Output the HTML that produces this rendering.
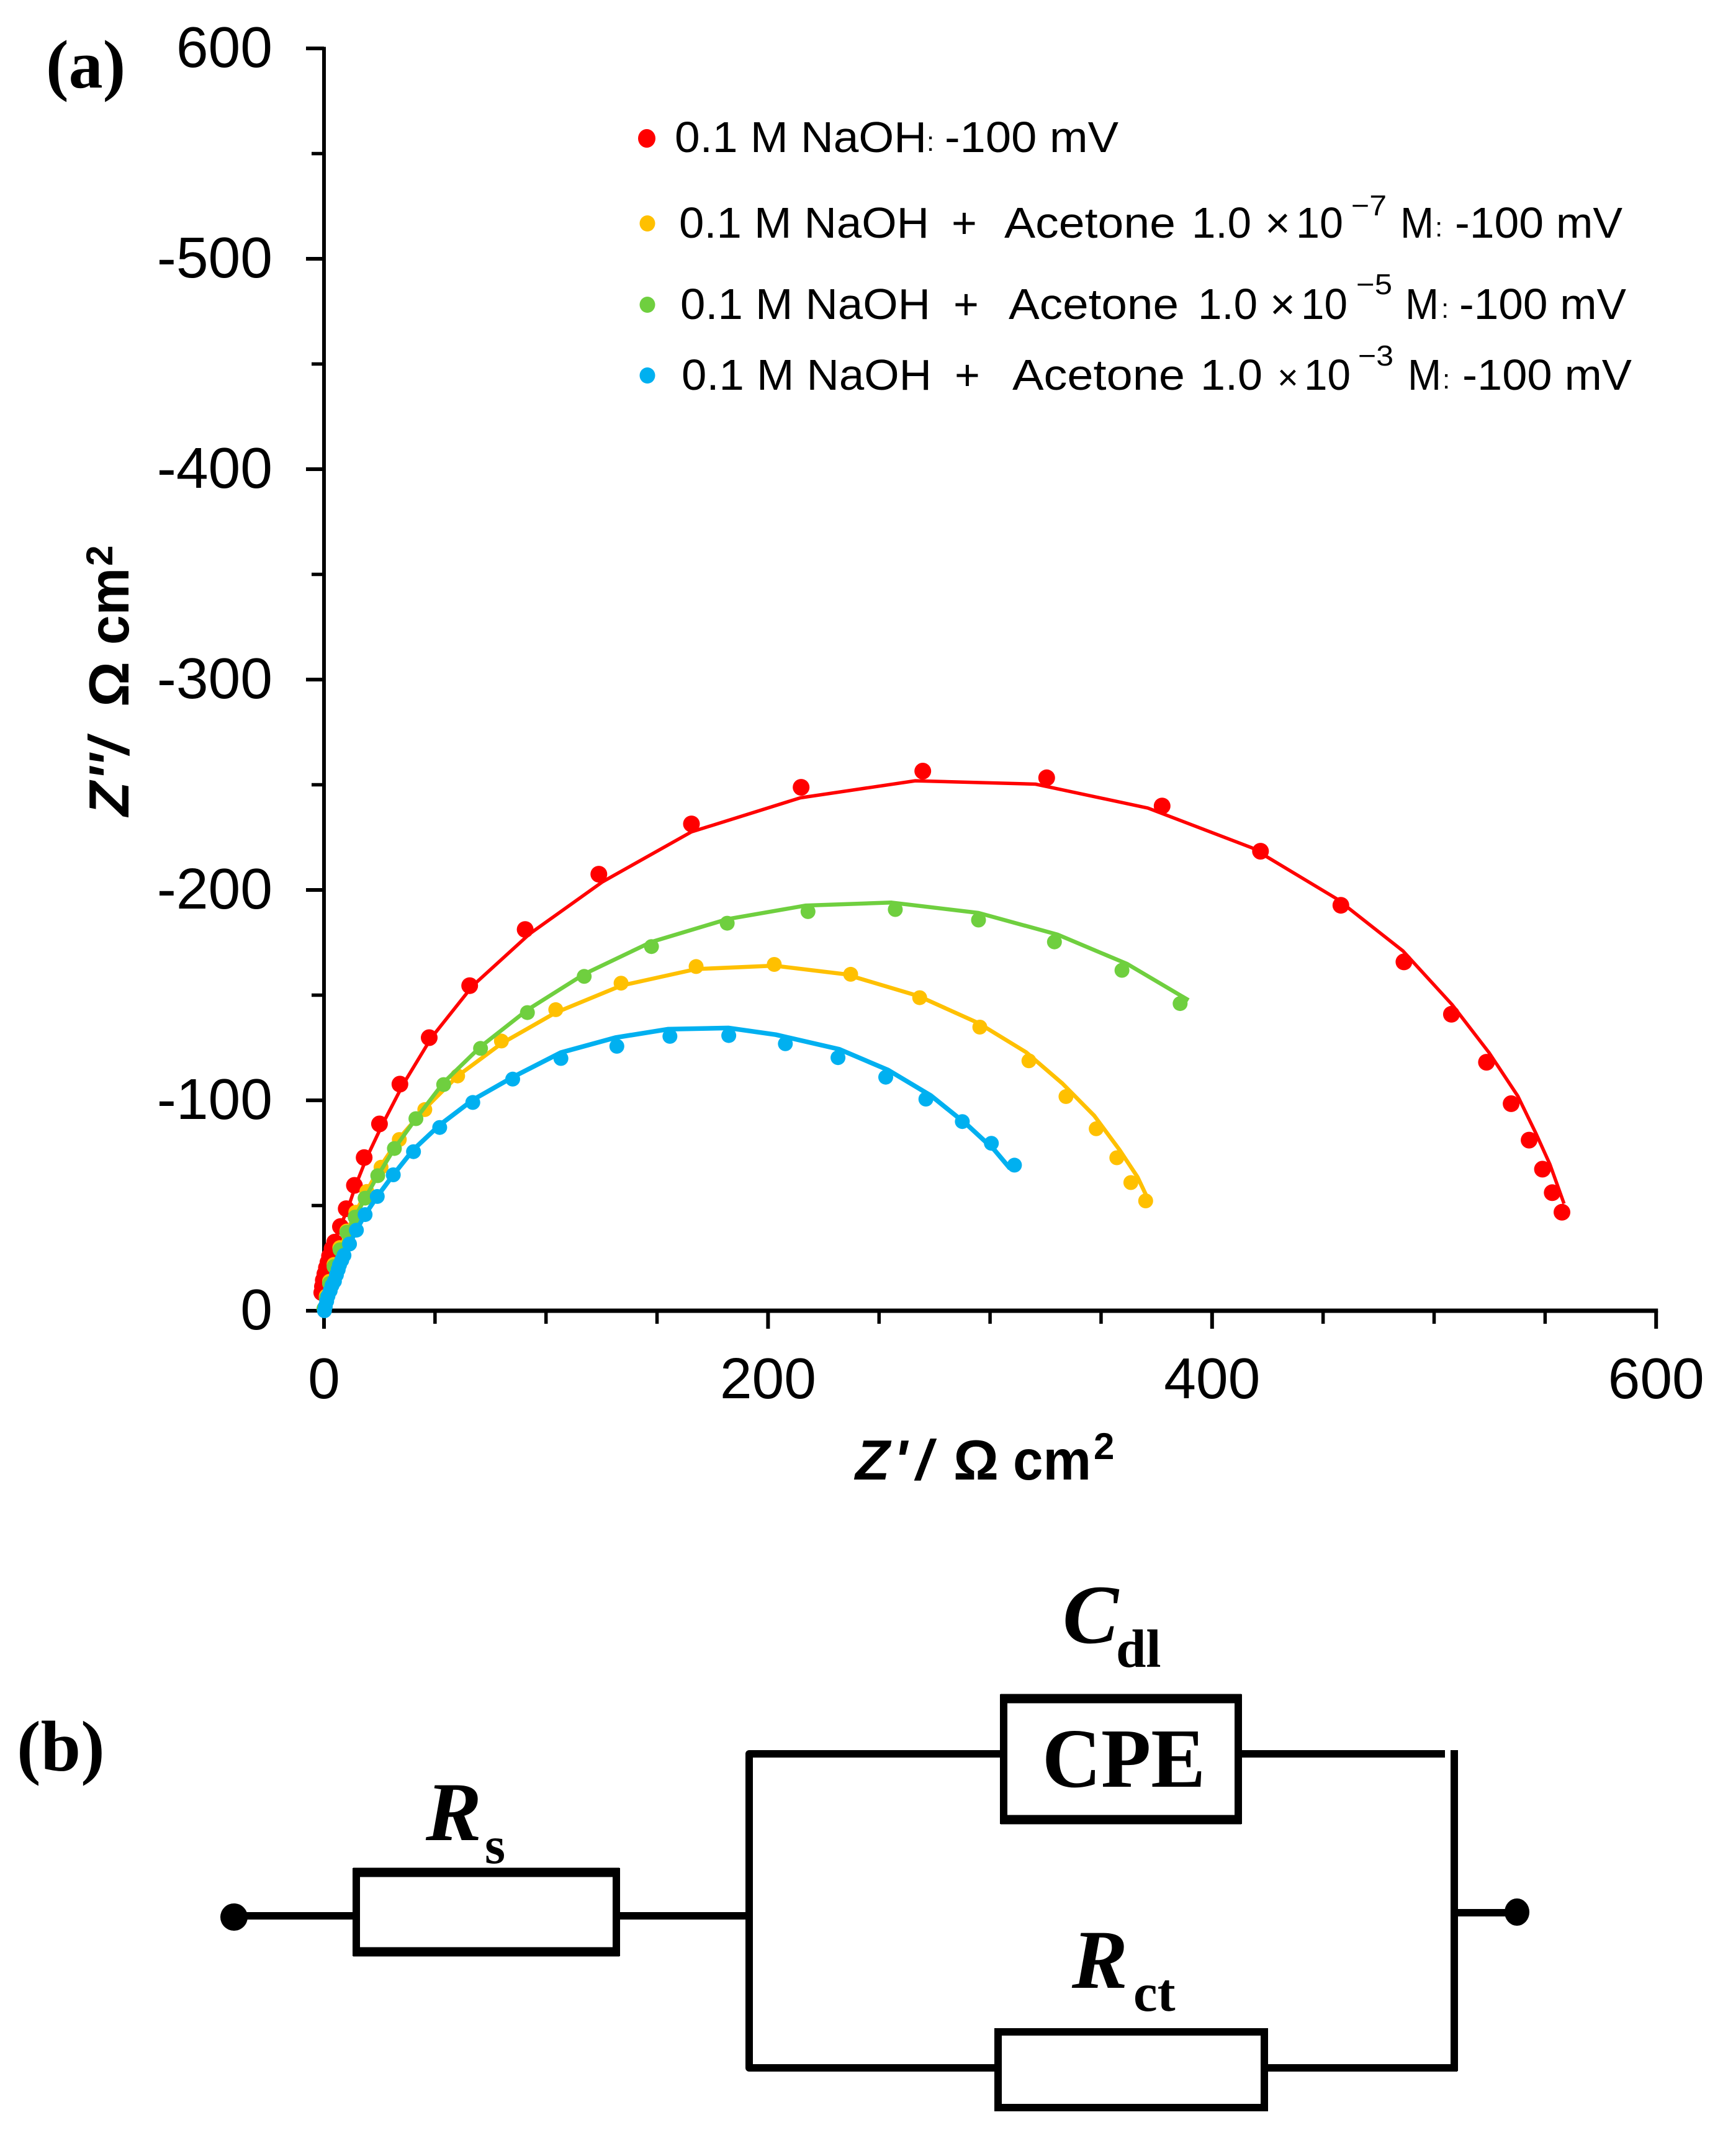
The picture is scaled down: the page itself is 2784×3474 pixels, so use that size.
<!DOCTYPE html>
<html lang="en">
<head>
<meta charset="utf-8">
<title>Nyquist plot and equivalent circuit</title>
<style>
html,body{margin:0;padding:0;background:#fff;}
svg{display:block;}
text{fill:#000;}
.sans{font-family:"Liberation Sans",sans-serif;}
.serif{font-family:"Liberation Serif",serif;}
.leg{font-family:"Liberation Sans",sans-serif;font-size:70px;}
.sup{font-family:"Liberation Sans",sans-serif;font-size:46px;}
.tick{font-family:"Liberation Sans",sans-serif;font-size:93px;}
.ttl{font-family:"Liberation Sans",sans-serif;font-size:91px;font-weight:bold;}
.ser-b{font-family:"Liberation Serif",serif;font-weight:bold;}
.wire{stroke:#000;fill:none;stroke-width:12;}
.bar{stroke:#000;fill:none;stroke-width:15;}
</style>
</head>
<body>
<svg id="fig" xmlns="http://www.w3.org/2000/svg" width="2784" height="3474" viewBox="0 0 2784 3474">
  <rect x="0" y="0" width="2784" height="3474" fill="#fff"/>

  <text class="ser-b" x="74" y="141" font-size="110">(a)</text>
  <g id="axes"></g>
  <g id="series"></g>

  <g transform="translate(207,1315) rotate(-90)">
    <text class="ttl" x="0" y="0" font-style="italic">Z</text>
    <text class="ttl" x="57" y="0" font-style="italic">''</text>
    <text class="ttl" x="100" y="0" font-style="italic">/</text>
    <text class="ttl" x="176" y="0">Ω</text>
    <text class="ttl" x="276" y="0" textLength="124" lengthAdjust="spacingAndGlyphs">cm</text>
    <text class="ttl" x="403" y="-26" font-size="60" style="font-size:60px">2</text>
  </g>
  <g>
    <text class="ttl" x="1378" y="2384" font-style="italic">Z</text>
    <text class="ttl" x="1440" y="2384" font-style="italic">'</text>
    <text class="ttl" x="1476" y="2384" font-style="italic">/</text>
    <text class="ttl" x="1536" y="2384">Ω</text>
    <text class="ttl" x="1632" y="2384" textLength="126" lengthAdjust="spacingAndGlyphs">cm</text>
    <text class="ttl" x="1762" y="2351" style="font-size:60px">2</text>
  </g>

  <g>
    <g>
      <ellipse cx="1042" cy="223" rx="14" ry="15" fill="#ff0000"/>
      <text class="leg" x="1087" y="245" textLength="406" lengthAdjust="spacingAndGlyphs">0.1 M NaOH</text>
      <text class="leg" x="1493" y="243" style="font-size:44px">:</text>
      <text class="leg" x="1522" y="245" textLength="280" lengthAdjust="spacingAndGlyphs">-100 mV</text>
    </g>
    <g>
      <ellipse cx="1043" cy="360" rx="12.5" ry="13" fill="#ffc000"/>
      <text class="leg" x="1094" y="383" textLength="403" lengthAdjust="spacingAndGlyphs">0.1 M NaOH</text>
      <text class="leg" x="1533" y="383">+</text>
      <text class="leg" x="1618" y="383" textLength="276" lengthAdjust="spacingAndGlyphs">Acetone</text>
      <text class="leg" x="1920" y="383" textLength="96" lengthAdjust="spacingAndGlyphs">1.0</text>
      <text class="leg" x="2038" y="383">×</text>
      <text class="leg" x="2088" y="383" textLength="76" lengthAdjust="spacingAndGlyphs">10</text>
      <text class="sup" x="2177" y="347" textLength="57" lengthAdjust="spacingAndGlyphs">−7</text>
      <text class="leg" x="2256" y="383" textLength="54" lengthAdjust="spacingAndGlyphs">M</text>
      <text class="leg" x="2312" y="381" style="font-size:44px">:</text>
      <text class="leg" x="2344" y="383" textLength="270" lengthAdjust="spacingAndGlyphs">-100 mV</text>
    </g>
    <g>
      <ellipse cx="1043" cy="491" rx="12.5" ry="13" fill="#6fcf3f"/>
      <text class="leg" x="1096" y="514" textLength="403" lengthAdjust="spacingAndGlyphs">0.1 M NaOH</text>
      <text class="leg" x="1536" y="514">+</text>
      <text class="leg" x="1625" y="514" textLength="274" lengthAdjust="spacingAndGlyphs">Acetone</text>
      <text class="leg" x="1930" y="514" textLength="96" lengthAdjust="spacingAndGlyphs">1.0</text>
      <text class="leg" x="2046" y="514">×</text>
      <text class="leg" x="2096" y="514" textLength="75" lengthAdjust="spacingAndGlyphs">10</text>
      <text class="sup" x="2185" y="474" textLength="58" lengthAdjust="spacingAndGlyphs">−5</text>
      <text class="leg" x="2264" y="514" textLength="54" lengthAdjust="spacingAndGlyphs">M</text>
      <text class="leg" x="2322" y="512" style="font-size:44px">:</text>
      <text class="leg" x="2351" y="514" textLength="269" lengthAdjust="spacingAndGlyphs">-100 mV</text>
    </g>
    <g>
      <ellipse cx="1043" cy="605" rx="12.5" ry="13" fill="#00b0f0"/>
      <text class="leg" x="1098" y="628" textLength="403" lengthAdjust="spacingAndGlyphs">0.1 M NaOH</text>
      <text class="leg" x="1538" y="628">+</text>
      <text class="leg" x="1631" y="628" textLength="278" lengthAdjust="spacingAndGlyphs">Acetone</text>
      <text class="leg" x="1934" y="628" textLength="100" lengthAdjust="spacingAndGlyphs">1.0</text>
      <text class="leg" x="2058" y="628" style="font-size:58px">×</text>
      <text class="leg" x="2101" y="628" textLength="75" lengthAdjust="spacingAndGlyphs">10</text>
      <text class="sup" x="2188" y="589" textLength="57" lengthAdjust="spacingAndGlyphs">−3</text>
      <text class="leg" x="2268" y="628" textLength="54" lengthAdjust="spacingAndGlyphs">M</text>
      <text class="leg" x="2324" y="626" style="font-size:44px">:</text>
      <text class="leg" x="2356" y="628" textLength="273" lengthAdjust="spacingAndGlyphs">-100 mV</text>
    </g>
  </g>

  <text class="ser-b" x="27" y="2853" font-size="116">(b)</text>
  <g>
    <ellipse cx="377" cy="3089" rx="22" ry="22" fill="#000"/>
    <line class="wire" x1="377" y1="3087" x2="570" y2="3087"/>
    <g>
      <path class="wire" d="M574 3010 V3152 M993 3010 V3152"/>
      <path class="bar" d="M569 3017 H998 M569 3145 H998"/>
    </g>
    <line class="wire" x1="998" y1="3087" x2="1207" y2="3087"/>
    <path class="wire" d="M1612 2826 H1207 V3332 H1604" stroke-linejoin="round"/>
    <g>
      <path class="wire" d="M1617 2730 V2939 M1995 2730 V2939"/>
      <path class="bar" d="M1612 2737 H2000 M1612 2932 H2000"/>
    </g>
    <line class="wire" x1="2000" y1="2826" x2="2328" y2="2826"/>
    <line class="wire" x1="2343" y1="2820" x2="2343" y2="3337"/>
    <line class="wire" x1="2042" y1="3332" x2="2348" y2="3332"/>
    <g>
      <path class="wire" d="M1608 3268 V3402 M2037 3268 V3402"/>
      <path class="wire" d="M1603 3274 H2042 M1603 3396 H2042"/>
    </g>
    <line class="wire" x1="2343" y1="3082" x2="2444" y2="3082"/>
    <ellipse cx="2444" cy="3081" rx="20" ry="22" fill="#000"/>
    <g>
      <text class="ser-b" x="686" y="2965" font-size="135" font-style="italic">R</text>
      <text class="ser-b" x="781" y="3002" font-size="85">s</text>
    </g>
    <g>
      <text class="ser-b" x="1712" y="2647" font-size="135" font-style="italic">C</text>
      <text class="ser-b" x="1798" y="2686" font-size="87">dl</text>
    </g>
    <text class="ser-b" x="1679" y="2879" font-size="136" textLength="263" lengthAdjust="spacingAndGlyphs">CPE</text>
    <g>
      <text class="ser-b" x="1727" y="3203" font-size="135" font-style="italic">R</text>
      <text class="ser-b" x="1826" y="3240" font-size="87">ct</text>
    </g>
  </g>
</svg>
<script>
var xMajorTicks = [0, 200, 400, 600];
var xMinorTicks = [50, 100, 150, 250, 300, 350, 450, 500, 550];
var xTickLabels = ["0", "200", "400", "600"];
var yMajorTicks = [0, 100, 200, 300, 400, 500, 600];
var yMinorTicks = [50, 150, 250, 350, 450, 550];
var yTickLabels = ["0", "-100", "-200", "-300", "-400", "-500", "600"];

var redPointX = [-1, -0.7, -0.3, 0.4, 1.1, 1.8, 2.5, 3.6, 4.8, 7.4, 10, 13.7, 18.1, 25, 34.2, 47.4, 65.6, 90.6, 123.8, 165.5, 214.9, 269.7, 325.5, 377.5, 421.8, 458, 486.4, 507.8, 523.6, 534.7, 542.8, 548.8, 553.2, 557.6];
var redPointY = [8.6, 11.5, 14.5, 17.5, 20.4, 23, 26, 29.5, 32.6, 40, 48.5, 59.6, 72.8, 88.8, 107.7, 129.8, 154.5, 181.2, 207.5, 231.4, 248.8, 256.5, 253.3, 239.9, 218.4, 192.7, 165.8, 140.9, 118.1, 98.4, 81.1, 67.3, 56.1, 46.8];
var redLineX = [0, 0.6, 2.5, 6, 10.7, 14.3, 19.3, 26.4, 35.7, 48.4, 67, 92.7, 125.5, 165.5, 214.6, 266.3, 320.5, 371.1, 418, 456.1, 486, 508.1, 524.7, 537.7, 546, 552.2, 558.5];
var redLineY = [6, 14, 25, 37, 48.4, 59.7, 72.9, 88.7, 107.7, 129.8, 154.5, 179.2, 203.9, 227.6, 243.8, 251.9, 250.3, 238.9, 220, 195.8, 171, 145.5, 122.7, 102, 84, 69.5, 50.9];

var yellowPointX = [0, 1, 2.5, 4.5, 7.1, 10.3, 14.3, 19.3, 25.7, 33.9, 45.4, 60.2, 79.9, 104.4, 133.8, 167.6, 202.8, 237.2, 268.3, 295.4, 317.5, 334.2, 347.8, 357.1, 363.4, 370.1];
var yellowPointY = [1, 7, 14, 22, 30, 37.9, 46.8, 56.7, 68.2, 81.4, 95.6, 111.6, 128.2, 143.1, 155.7, 163.6, 164.6, 159.9, 148.8, 134.8, 118.8, 101.8, 86.5, 72.7, 60.9, 52.2];
var yellowLineX = [0, 2, 5, 10, 14.3, 19.3, 25.7, 33.9, 45.4, 60.2, 79.9, 104.4, 133.8, 167.6, 202.8, 234.9, 267.7, 294.8, 316.2, 332.6, 346.9, 358.3, 366.4, 370.4];
var yellowLineY = [0, 10, 22, 37, 47, 57, 69, 82, 96, 111.6, 127, 141.7, 154.5, 162.4, 164, 159.9, 149.6, 136.7, 122.9, 108, 92.7, 76.5, 63.6, 54.7];

var greenPointX = [0, 1, 2.5, 4.5, 7.2, 10.3, 14, 18.5, 24.2, 31.7, 41.4, 53.9, 70.5, 91.6, 117.2, 147.5, 181.6, 218, 257.3, 294.8, 329, 359.4, 385.6];
var greenPointY = [1, 6, 13, 21, 29, 37.3, 44.5, 53.5, 64.2, 77.1, 91.3, 107.5, 124.7, 141.7, 158.9, 173.1, 184.2, 189.7, 190.7, 185.7, 175.3, 161.8, 146];
var greenLineX = [0, 2, 5, 10.3, 14, 18.5, 24.2, 31.7, 41.4, 53.9, 70.5, 91.6, 117.2, 147.5, 181.6, 217, 255.6, 294.8, 330.4, 361.8, 389.4];
var greenLineY = [0, 8, 19, 37, 44.5, 53.5, 64.2, 77.1, 91.3, 108.5, 125.5, 143, 160, 175.3, 186.1, 192.6, 194, 189.1, 178.8, 164.8, 147.6];

var bluePointX = [0.2, 0.6, 1.2, 1.8, 2.8, 3.6, 4.7, 5.6, 6.4, 7, 8, 9, 11.5, 14.6, 18.5, 24, 31.2, 40.3, 52.1, 67, 85, 106.7, 131.9, 155.8, 182.3, 207.8, 231.5, 253, 271.1, 287.5, 300.6, 311];
var bluePointY = [0, 2, 4.5, 7, 9.5, 12, 14, 17, 19.6, 21.8, 24, 26.3, 31.7, 38.3, 45.7, 54.3, 64.6, 75.6, 87.1, 99, 110.1, 119.9, 125.7, 130.4, 130.8, 126.9, 120.3, 111, 100.6, 89.9, 79.6, 69.2];
var blueLineX = [0, 1.8, 4.7, 7, 9, 11.5, 14.6, 18.5, 24, 31.2, 40.2, 52.1, 67, 85, 106.7, 131.2, 154.8, 182.3, 203.5, 232, 254.1, 273.4, 289.8, 301.9, 309];
var blueLineY = [0, 7, 14, 21.8, 26.3, 31.7, 38.3, 45.7, 54.3, 64.6, 76.5, 88.3, 100.2, 111, 122.7, 129.8, 133.8, 134.4, 131.2, 124.3, 114.4, 102.2, 88.3, 76.5, 67.6];

var NS = "http://www.w3.org/2000/svg";
var X0 = 522, XU = 3.577, Y0 = 2112, YU = 3.39;
function sx(v) { return X0 + v * XU; }
function sy(v) { return Y0 - v * YU; }

var axes = document.getElementById("axes");
var seriesLayer = document.getElementById("series");

function makeLine(x1, y1, x2, y2, width) {
  var el = document.createElementNS(NS, "line");
  el.setAttribute("x1", x1);
  el.setAttribute("y1", y1);
  el.setAttribute("x2", x2);
  el.setAttribute("y2", y2);
  el.setAttribute("stroke", "#000");
  el.setAttribute("stroke-width", width);
  axes.appendChild(el);
  return el;
}

var yAxis = makeLine(sx(0), sy(600) - 2.5, sx(0), sy(0) + 2.5, 6);


var xAxis = makeLine(sx(0), sy(0), sx(600) + 3, sy(0), 7);



yMajorTicks.forEach(function (v) {
  var t = makeLine(sx(0) - 29, sy(v), sx(0), sy(v), 6);
  
  
});
yMinorTicks.forEach(function (v) {
  var t = makeLine(sx(0) - 20, sy(v), sx(0), sy(v), 5.5);
  
  
});
xMajorTicks.forEach(function (v) {
  var t = makeLine(sx(v), sy(0), sx(v), sy(0) + 29, 6);
  
  
});
xMinorTicks.forEach(function (v) {
  var t = makeLine(sx(v), sy(0), sx(v), sy(0) + 21, 5.5);
  
  
});

yMajorTicks.forEach(function (v, i) {
  var t = document.createElementNS(NS, "text");
  
  
  t.setAttribute("class", "tick");
  t.setAttribute("x", 439);
  t.setAttribute("y", sy(v) + 30);
  t.setAttribute("text-anchor", "end");
  t.textContent = yTickLabels[i];
  axes.appendChild(t);
});
xMajorTicks.forEach(function (v, i) {
  var t = document.createElementNS(NS, "text");
  
  
  t.setAttribute("class", "tick");
  t.setAttribute("x", sx(v));
  t.setAttribute("y", 2253);
  t.setAttribute("text-anchor", "middle");
  t.textContent = xTickLabels[i];
  axes.appendChild(t);
});

function drawSeries(lineX, lineY, pointX, pointY, color, radius, lineWidth, key) {
  var group = document.createElementNS(NS, "g");
  
  
  var pts = lineX.map(function (v, i) { return sx(v).toFixed(1) + "," + sy(lineY[i]).toFixed(1); }).join(" ");
  var line = document.createElementNS(NS, "polyline");
  
  
  line.setAttribute("points", pts);
  line.setAttribute("fill", "none");
  line.setAttribute("stroke", color);
  line.setAttribute("stroke-width", lineWidth);
  line.setAttribute("stroke-linejoin", "round");
  group.appendChild(line);
  pointX.forEach(function (v, i) {
    var c = document.createElementNS(NS, "circle");
    
    
    c.setAttribute("cx", sx(v).toFixed(1));
    c.setAttribute("cy", sy(pointY[i]).toFixed(1));
    c.setAttribute("r", radius);
    c.setAttribute("fill", color);
    group.appendChild(c);
  });
  seriesLayer.appendChild(group);
}

drawSeries(redLineX, redLineY, redPointX, redPointY, "#ff0000", 13.5, 5.5, "naoh");
drawSeries(yellowLineX, yellowLineY, yellowPointX, yellowPointY, "#ffc000", 12, 6.5, "acetone-1e-7");
drawSeries(greenLineX, greenLineY, greenPointX, greenPointY, "#6fcf3f", 12, 6.5, "acetone-1e-5");
drawSeries(blueLineX, blueLineY, bluePointX, bluePointY, "#00b0f0", 12, 7.5, "acetone-1e-3");
</script>
</body>
</html>
